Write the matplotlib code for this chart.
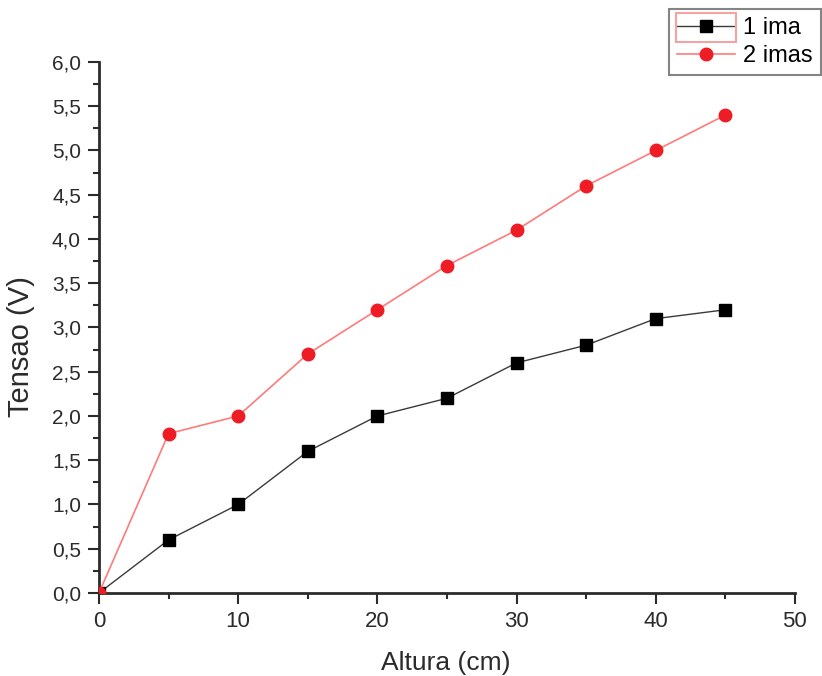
import matplotlib.pyplot as plt
import numpy as np
from matplotlib.ticker import FuncFormatter, MultipleLocator
from matplotlib.patches import Rectangle

plt.rcParams['font.family'] = ['Liberation Sans', 'DejaVu Sans']

altura = [0, 5, 10, 15, 20, 25, 30, 35, 40, 45]
tensao_1ima = [0.0, 0.6, 1.0, 1.6, 2.0, 2.2, 2.6, 2.8, 3.1, 3.2]
tensao_2imas = [0.0, 1.8, 2.0, 2.7, 3.2, 3.7, 4.1, 4.6, 5.0, 5.4]

fig = plt.figure(figsize=(8.22, 6.76), dpi=100)
ax = fig.add_axes([0.1204, 0.1228, 0.8466, 0.7855])

ax.plot(altura, tensao_1ima, color='#3a3a3a', lw=1, marker='s', ms=9,
        mfc='black', mec='black', label='1 ima', zorder=3)
ax.plot(altura, tensao_2imas, color='#ff7a7a', lw=1.2, marker='o', ms=9,
        mfc='#ee1c25', mec='#ee1c25', label='2 imas', zorder=3)

ax.set_xlim(0, 50)
ax.set_ylim(0, 6.0)
ax.xaxis.set_major_locator(MultipleLocator(10))
ax.xaxis.set_minor_locator(MultipleLocator(5))
ax.yaxis.set_major_locator(MultipleLocator(0.5))
ax.yaxis.set_minor_locator(MultipleLocator(0.25))
ax.yaxis.set_major_formatter(FuncFormatter(lambda v, p: f'{v:.1f}'.replace('.', ',')))

for s in ['top', 'right']:
    ax.spines[s].set_visible(False)
for s in ['left', 'bottom']:
    ax.spines[s].set_linewidth(2)
    ax.spines[s].set_color('#2b2b2b')
ax.tick_params(which='major', length=8, width=1.5, labelsize=15, colors='#2b2b2b', pad=5)
ax.tick_params(axis='x', which='major', labelsize=16)
ax.tick_params(which='minor', length=4, width=1.5, colors='#2b2b2b')

ax.set_xlabel('Altura (cm)', fontsize=19, color='#2b2b2b')
ax.set_ylabel('Tensao (V)', fontsize=21, color='#2b2b2b')
ax.xaxis.set_label_coords(0.499, -0.109)
ax.yaxis.set_label_coords(-0.092, 0.465)

leg = fig.legend(loc='upper right', bbox_to_anchor=(821 / 822, 1 - 9 / 676), fontsize=17,
                 frameon=True, fancybox=False, edgecolor='#666666',
                 handlelength=2.45, borderpad=0.35, labelspacing=0.25,
                 handletextpad=0.35, borderaxespad=0)
leg.get_frame().set_linewidth(1.5)

# selection box around first legend entry (as in the original screenshot)
fig.patches.append(Rectangle((676 / 822, 1 - 42 / 676), 60 / 822, 29 / 676,
                             transform=fig.transFigure, fill=False,
                             edgecolor='#f4a3a3', lw=1.5, zorder=10))

fig.savefig('out.png', dpi=100)
